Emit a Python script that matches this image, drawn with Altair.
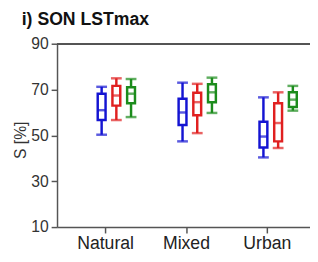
import altair as alt
import pandas as pd

categories = ["Natural", "Mixed", "Urban"]
series = ["S1", "S2", "S3"]
colors = ["#1414d2", "#e02020", "#1c8c1c"]

# per category, per series (blue, red, green)
whisker_low = [[50.3, 56.7, 58.0], [47.4, 51.0, 59.8], [40.4, 44.5, 60.8]]
q1 = [[56.7, 63.0, 64.0], [54.5, 58.8, 64.5], [44.7, 47.4, 62.4]]
median = [[61.0, 67.4, 68.2], [60.0, 64.5, 68.8], [49.5, 55.4, 65.6]]
q3 = [[68.2, 71.6, 71.0], [66.0, 68.6, 72.3], [56.0, 64.0, 68.8]]
whisker_high = [[71.2, 74.9, 74.6], [73.0, 72.5, 75.2], [66.6, 68.8, 71.6]]

rows = []
for i, c in enumerate(categories):
    for j, s in enumerate(series):
        rows.append(dict(cat=c, series=s, lo=whisker_low[i][j], q1=q1[i][j],
                         med=median[i][j], q3=q3[i][j], hi=whisker_high[i][j]))
df = pd.DataFrame(rows)

FONT = "Liberation Sans"
LINE = "#555555"
SW = 2.5

x_enc = alt.X("cat:N", sort=categories, scale=alt.Scale(range=[0, 264]),
              axis=alt.Axis(title=None, labelAngle=0, labelFontSize=18, labelFont=FONT,
                            labelColor="#222222", domainColor=LINE, domainWidth=1.5,
                            tickColor=LINE, tickWidth=1.5, tickSize=6, labelPadding=2))
xo_enc = alt.XOffset("series:N", sort=series, scale=alt.Scale(range=[21.5, 66.5]))
col = alt.Color("series:N", sort=series, scale=alt.Scale(domain=series, range=colors), legend=None)
y_scale = alt.Scale(domain=[10, 90], nice=False, zero=False)
y_axis = alt.Axis(values=list(range(10, 91, 10)),
                  labelExpr="datum.value % 20 == 10 ? datum.label : ''",
                  title="S [%]", titleFont=FONT, titleFontSize=16, titleFontWeight="normal",
                  titleColor="#333333", labelFont=FONT, labelFontSize=16, labelColor="#333333",
                  grid=False, domainColor=LINE, domainWidth=1.5, tickColor=LINE, tickWidth=1.5,
                  tickSize=6, labelPadding=3, titleX=-37, titleY=98, titleAngle=270,
                  titleAlign="center", titleBaseline="middle")

base = alt.Chart(df).encode(x=x_enc, xOffset=xo_enc, color=col)

w_low = base.mark_rule(strokeWidth=SW).encode(
    y=alt.Y("lo:Q", scale=y_scale, axis=y_axis), y2="q1:Q")
w_high = base.mark_rule(strokeWidth=SW).encode(y=alt.Y("q3:Q"), y2="hi:Q")
box = base.mark_bar(width=8, fill="white", strokeWidth=SW).encode(
    y=alt.Y("q1:Q"), y2="q3:Q",
    stroke=alt.Stroke("series:N", sort=series, scale=alt.Scale(domain=series, range=colors), legend=None))
med = base.mark_tick(size=8, thickness=SW).encode(y=alt.Y("med:Q"))
cap_lo = base.mark_tick(size=11, thickness=SW).encode(y=alt.Y("lo:Q"))
cap_hi = base.mark_tick(size=11, thickness=SW).encode(y=alt.Y("hi:Q"))

top = alt.Chart(df).mark_rule(color=LINE, strokeWidth=1.5).encode(y=alt.datum(90))

chart = alt.layer(w_low, w_high, box, med, cap_lo, cap_hi, top).properties(
    width=258, height=187,
    title=alt.TitleParams("i) SON LSTmax", anchor="start", frame="group", font=FONT, fontSize=18,
                          fontWeight="bold", color="#111111", dx=-36, offset=7),
    autosize=alt.AutoSizeParams(type="none"),
    padding={"left": 50, "top": 34, "right": 0, "bottom": 24},
).configure_view(strokeWidth=0)

chart.save("out.html", embed_options={"renderer": "svg", "actions": False})
